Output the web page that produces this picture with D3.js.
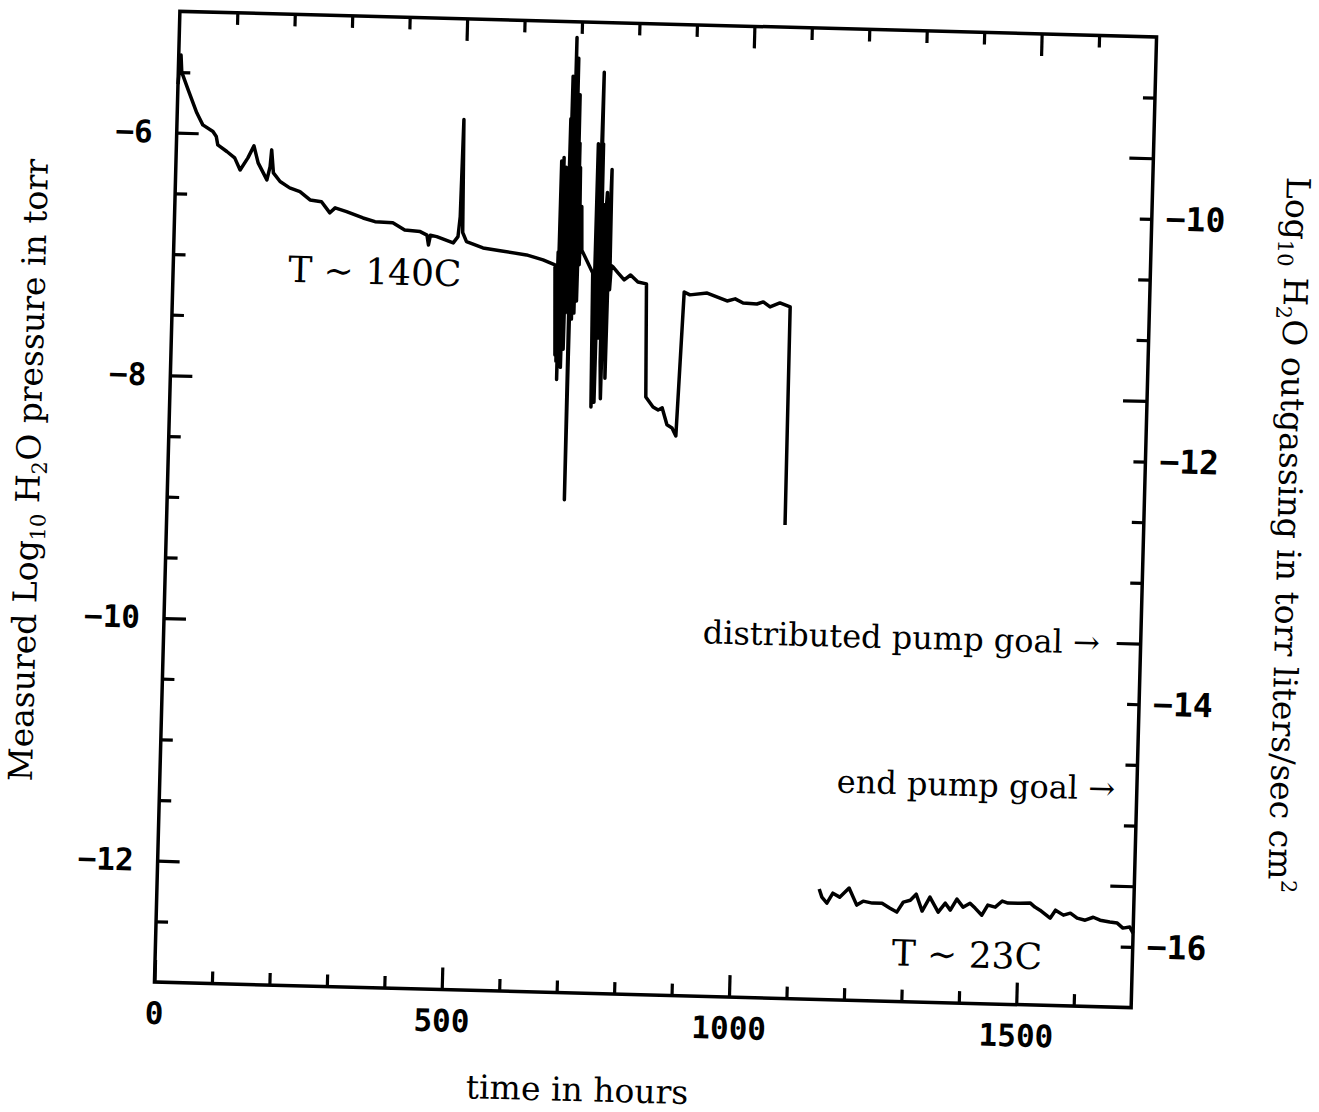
<!DOCTYPE html>
<html>
<head>
<meta charset="utf-8">
<script src="https://cdn.jsdelivr.net/npm/d3@7"></script>
<style>
  body { margin: 0; background: #fff; }
  svg { display: block; }
  .tick text { font-family: "DejaVu Sans Mono", monospace; font-weight: bold; font-size: 31px; fill: #000; }
  .right .tick text { font-size: 33px; }
  .lbl { font-family: "DejaVu Serif", serif; fill: #000; }
</style>
</head>
<body>
<svg id="chart" width="1319" height="1112"></svg>
<script>
// 140C bake-out run
var hotHours = [0, 4, 6, 18, 34, 45, 63, 69, 72, 88, 102, 112, 125, 135, 143, 159, 164, 166, 170, 182,
  199, 217, 235, 255, 270, 279, 299, 328, 349, 380, 401, 428, 440, 443, 446, 457, 486, 494, 497, 499,
  502, 509, 538, 568, 614, 643, 664,
  668, 669, 670, 671, 672, 673, 674, 675, 676, 677, 678, 679, 680, 681, 682, 683, 684, 685, 686, 687,
  688, 689, 690, 691, 692, 693, 694, 695, 696, 697, 698, 699, 700, 701, 702, 703, 704, 706, 708, 710,
  730, 733, 734, 735, 736, 738, 739, 741, 742, 743, 744, 746, 747, 749, 750, 752, 754, 756, 757, 759, 760, 762,
  765, 774, 785, 796, 809, 824, 828, 841, 850, 857, 866, 875, 882, 890, 900, 930, 965, 979, 993,
  1017, 1028, 1040, 1057, 1075, 1076];
var hotLogP = [-5.6, -5.36, -5.5, -5.644, -5.832, -5.93, -5.983, -6.023, -6.092, -6.144, -6.195, -6.293, -6.192, -6.092, -6.231, -6.369, -6.259, -6.121, -6.31, -6.38,
  -6.43, -6.458, -6.525, -6.537, -6.627, -6.585, -6.613, -6.662, -6.69, -6.696, -6.752, -6.762, -6.79, -6.87, -6.79, -6.8, -6.848, -6.795, -6.63, -5.83,
  -6.76, -6.835, -6.883, -6.902, -6.931, -6.969, -7.007,
  -7.75, -6.9, -7.8, -6.15, -7.95, -6.3, -7.6, -6.12, -7.7, -6.4, -7.85, -6.2, -7.5, -6.6, -7.7, -6.3, -7.4, -5.8, -7.3, -5.45,
  -7.2, -5.9, -7.4, -8.94, -5.13, -7.3, -5.5, -7.45, -5.3, -7.2, -5.7, -7.4, -5.6, -7.1, -6.0, -7.3, -6.2, -7.0, -6.52, -6.88,
  -7.065, -8.17, -6.0, -8.0, -6.3, -8.13, -6.6, -5.41, -7.6, -6.0, -7.3, -6.5, -7.8, -8.1, -6.6, -6.4, -7.5, -7.93, -6.8, -6.21, -7.2, -7.0,
  -7.011, -7.06, -7.116, -7.074, -7.13, -7.144, -8.075, -8.156, -8.18, -8.162, -8.3, -8.325, -8.39, -7.202, -7.225, -7.206, -7.267, -7.248, -7.28,
  -7.286, -7.267, -7.307, -7.272, -7.303, -9.1];

// 23C run
var coldHours = [1152, 1157, 1166, 1176, 1188, 1204, 1218, 1229, 1245, 1262, 1276, 1288, 1299, 1311, 1321, 1332,
  1345, 1360, 1372, 1381, 1392, 1403, 1415, 1424, 1436, 1446, 1459, 1471, 1481, 1502, 1520, 1528, 1537,
  1555, 1564, 1578, 1590, 1602, 1616, 1630, 1642, 1659, 1672, 1682, 1694, 1700];
var coldLogP = [-12.09, -12.157, -12.205, -12.122, -12.153, -12.076, -12.215, -12.181, -12.195, -12.194, -12.233, -12.264, -12.18, -12.163, -12.112, -12.25,
  -12.133, -12.255, -12.18, -12.236, -12.144, -12.209, -12.175, -12.214, -12.271, -12.187, -12.202, -12.15, -12.166, -12.164, -12.161, -12.193, -12.217,
  -12.281, -12.214, -12.253, -12.235, -12.275, -12.29, -12.264, -12.287, -12.3, -12.307, -12.347, -12.337, -12.386];

var xMajor = [0, 500, 1000, 1500];
var xMinor = d3.range(100, 1700, 100).filter(function (v) { return v % 500 !== 0; });
var yLeftMajor = [-6, -8, -10, -12];
var yLeftMinor = d3.range(-12.5, -5, 0.5).filter(function (v) { return v % 2 !== 0; });
var yRightLabels = [-10, -12, -14, -16];

var svg = d3.select("#chart");
var margin = { left: 167, top: 24, right: 175, bottom: 117 };
var W = 1319 - margin.left - margin.right,
  H = 1112 - margin.top - margin.bottom;

// the scanned page is tilted a little
var page = svg.append("g").attr("transform", "rotate(1.5,656,510)");
var g = page.append("g").attr("transform", "translate(" + margin.left + "," + margin.top + ")");

var x = d3.scaleLinear().domain([0, 1700]).range([0, W]);
var y = d3.scaleLinear().domain([-13, -5]).range([H, 0]);
var yR = d3.scaleLinear().domain([-16.5, -8.5]).range([H, 0]);

function styleAxis(sel) {
  sel.select(".domain").remove();
  sel.selectAll(".tick line").attr("stroke", "#000").attr("stroke-width", 3.2);
}
var minus = function (d) { return "\u2212" + Math.abs(d); };

// bottom
g.append("g").attr("transform", "translate(0," + H + ")")
  .call(d3.axisBottom(x).tickValues(xMinor).tickSize(-12).tickFormat("")).call(styleAxis);
g.append("g").attr("transform", "translate(0," + H + ")")
  .call(d3.axisBottom(x).tickValues(xMajor).tickSize(-22).tickPadding(20).tickFormat(d3.format("d")))
  .call(styleAxis);
// top
g.append("g").call(d3.axisTop(x).tickValues(xMinor).tickSize(-12).tickFormat("")).call(styleAxis);
g.append("g").call(d3.axisTop(x).tickValues(xMajor.slice(1)).tickSize(-22).tickFormat("")).call(styleAxis);
// left
g.append("g").call(d3.axisLeft(y).tickValues(yLeftMinor).tickSize(-12).tickFormat("")).call(styleAxis);
g.append("g").call(d3.axisLeft(y).tickValues(yLeftMajor).tickSize(-22).tickPadding(24).tickFormat(minus))
  .call(styleAxis);
// right (ticks mirror the left side, labels on outgassing scale)
g.append("g").attr("transform", "translate(" + W + ",0)")
  .call(d3.axisRight(y).tickValues(yLeftMinor).tickSize(-12).tickFormat("")).call(styleAxis);
g.append("g").attr("transform", "translate(" + W + ",0)")
  .call(d3.axisRight(y).tickValues(yLeftMajor).tickSize(-24).tickFormat("")).call(styleAxis);
g.append("g").attr("class", "right").attr("transform", "translate(" + W + ",0)")
  .call(d3.axisRight(yR).tickValues(yRightLabels).tickSize(0).tickPadding(14).tickFormat(minus))
  .call(styleAxis);

g.append("rect").attr("width", W).attr("height", H)
  .attr("fill", "none").attr("stroke", "#000").attr("stroke-width", 3.5);

var line = d3.line()
  .x(function (d) { return x(d[0]); })
  .y(function (d) { return y(d[1]); });

[d3.zip(hotHours, hotLogP), d3.zip(coldHours, coldLogP)].forEach(function (run) {
  g.append("path").datum(run)
    .attr("d", line).attr("fill", "none").attr("stroke", "#000")
    .attr("stroke-width", 3.5).attr("stroke-linejoin", "round");
});

// annotations
g.append("text").attr("class", "lbl").attr("x", x(351)).attr("y", y(-7.1)).attr("dy", "0.35em")
  .attr("text-anchor", "middle").style("font-size", "36px").text("T \u223C  140C");
g.append("text").attr("class", "lbl").attr("x", x(1412)).attr("y", y(-12.6)).attr("dy", "0.35em")
  .attr("text-anchor", "middle").style("font-size", "36px").text("T \u223C  23C");
g.append("text").attr("class", "lbl").attr("x", x(1629)).attr("y", yR(-13.5)).attr("dy", "0.35em")
  .attr("text-anchor", "end").style("font-size", "32px").text("distributed pump goal \u2192");
g.append("text").attr("class", "lbl").attr("x", x(1662)).attr("y", yR(-14.7)).attr("dy", "0.35em")
  .attr("text-anchor", "end").style("font-size", "32px").text("end pump goal \u2192");

// axis titles
g.append("text").attr("class", "lbl").attr("x", x(740)).attr("y", H + 108)
  .attr("text-anchor", "middle").style("font-size", "33px").text("time in hours");

var lt = g.append("text").attr("class", "lbl").style("font-size", "33px").attr("text-anchor", "middle")
  .attr("transform", "translate(-128," + (H / 2 - 23) + ") rotate(-90)");
lt.append("tspan").text("Measured Log");
lt.append("tspan").attr("dy", 7).style("font-size", "21px").text("10");
lt.append("tspan").attr("dy", -7).text(" H");
lt.append("tspan").attr("dy", 7).style("font-size", "21px").text("2");
lt.append("tspan").attr("dy", -7).text("O pressure in torr");

var rt = g.append("text").attr("class", "lbl").style("font-size", "33px").attr("text-anchor", "middle")
  .attr("transform", "translate(" + (W + 134) + "," + (H / 2 + 9) + ") rotate(90)");
rt.append("tspan").text("Log");
rt.append("tspan").attr("dy", 7).style("font-size", "21px").text("10");
rt.append("tspan").attr("dy", -7).text(" H");
rt.append("tspan").attr("dy", 7).style("font-size", "21px").text("2");
rt.append("tspan").attr("dy", -7).text("O outgassing in torr liters/sec cm");
rt.append("tspan").attr("dy", -13).style("font-size", "21px").text("2");
</script>
</body>
</html>
